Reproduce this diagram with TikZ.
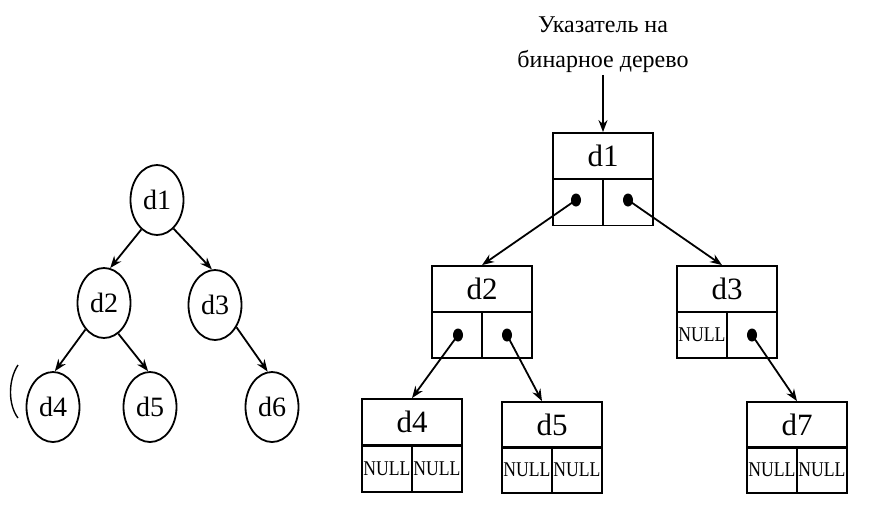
\documentclass[tikz,border=0pt]{standalone}
\usepackage{fontspec}
\usepackage{graphicx}
\setmainfont{Liberation Serif}
\usetikzlibrary{shapes.geometric,arrows.meta}

\tikzset{
  vert/.style={draw, ellipse, minimum width=53pt, minimum height=70pt, inner sep=0pt, font=\fontsize{28}{28}\selectfont},
  key/.style={draw, minimum width=100pt, minimum height=46pt, inner sep=0pt, font=\fontsize{31}{31}\selectfont},
  link/.style={draw, minimum width=50pt, minimum height=46pt, inner sep=0pt, font=\fontsize{21}{21}\selectfont},
  dot/.style={ellipse, fill, inner sep=0pt, minimum width=10pt, minimum height=13pt},
  edge/.style={-{Stealth[length=12pt,width=9pt]}}
}
\newcommand{\nul}{\scalebox{0.84}[1]{NULL}}

\begin{document}
\begin{tikzpicture}[x=1pt, y=-1pt, line width=1.8pt]
	\useasboundingbox (0,0) rectangle (872,512);

	% binary tree
	\node [vert] (l1) at (157,200) {d1};
	\node [vert] (l2) at (104,303) {d2};
	\node [vert] (l3) at (215,305) {d3};
	\node [vert] (l4) at (53,407)  {d4};
	\node [vert] (l5) at (150,407) {d5};
	\node [vert] (l6) at (272,407) {d6};

	\draw [edge] (l1.242) -- (l2.80);
	\draw [edge] (l1.300) -- (l3.95);
	\draw [edge] (l2.235) -- (l4.87);
	\draw [edge] (l2.295) -- (l5.93);
	\draw [edge] (l3.314) -- (l6.97);

	\draw [line width=1.4pt] (18,365) .. controls (8,380) and (8,405) .. (18,418);

	% linked representation
	\node [align=center, font=\fontsize{24}{35}\selectfont, inner sep=1pt] (ptr) at (603,45) {Указатель на\\бинарное дерево};

	\node [key]  (r1) at (603,156) {d1};
	\node [link] (r1a) at (578,202.5) {};
	\node [link] (r1b) at (628,202.5) {};

	\node [key]  (r2) at (482,289) {d2};
	\node [link] (r2a) at (457,335) {};
	\node [link] (r2b) at (507,335) {};

	\node [key]  (r3) at (727,289) {d3};
	\node [link] (r3a) at (702,335) {\nul};
	\node [link] (r3b) at (752,335) {};

	\node [key]  (r4) at (412,422) {d4};
	\node [link] (r4a) at (387,469) {\nul};
	\node [link] (r4b) at (437,469) {\nul};

	\node [key]  (r5) at (552,425) {d5};
	\node [link] (r5a) at (527,470) {\nul};
	\node [link] (r5b) at (577,470) {\nul};

	\node [key]  (r7) at (797,425) {d7};
	\node [link] (r7a) at (772,470) {\nul};
	\node [link] (r7b) at (822,470) {\nul};

	\node [dot] (p1a) at (576,200) {};
	\node [dot] (p1b) at (628,200) {};
	\node [dot] (p2a) at (458,335) {};
	\node [dot] (p2b) at (507,335) {};
	\node [dot] (p3b) at (752,335) {};

	\draw [edge] (ptr.south) -- (r1.north);
	\draw [edge] (p1a.center) -- (r2.north);
	\draw [edge] (p1b.center) -- ([xshift=-5pt]r3.north);
	\draw [edge] (p2a.center) -- (r4.north);
	\draw [edge] (p2b.center) -- ([xshift=-10pt]r5.north);
	\draw [edge] (p3b.center) -- (r7.north);
\end{tikzpicture}
\end{document}
